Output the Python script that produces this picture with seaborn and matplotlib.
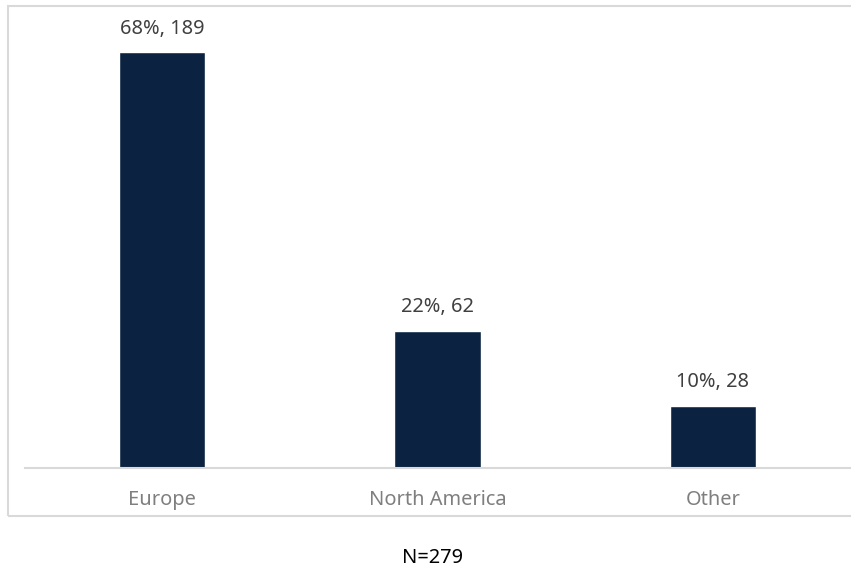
import matplotlib
matplotlib.use("Agg")
import matplotlib.pyplot as plt
from matplotlib.patches import Rectangle
import pandas as pd
import seaborn as sns

regions = ["Europe", "North America", "Other"]
shares = [68, 22, 10]
counts = [189, 62, 28]
total_label = "N=279"

sns.set_theme(style="white")
plt.rcParams["font.family"] = ["Noto Sans", "DejaVu Sans"]

W, H = 851, 572
fig = plt.figure(figsize=(W / 100, H / 100), dpi=100)
fig.patch.set_facecolor("white")

base_y = 467.5
top_y = 20
ax = fig.add_axes([24.5 / W, (H - base_y) / H, 826 / W, (base_y - top_y) / H])

df = pd.DataFrame({"region": regions, "count": counts})
sns.barplot(data=df, x="region", y="count", color="#0B2340", saturation=1,
            width=0.313, ax=ax)

ax.set_xlim(-0.5, 2.5)
ax.set_ylim(0, (base_y - top_y) / 2.196)
ax.set_xlabel("")
ax.set_ylabel("")
ax.set_yticks([])
for side in ["top", "left", "right"]:
    ax.spines[side].set_visible(False)
ax.spines["bottom"].set_color("#D9D9D9")
ax.spines["bottom"].set_linewidth(1.5)
ax.tick_params(axis="x", length=0, pad=16.5, labelsize=14.4, labelcolor="#7F7F7F")

labels = [f"{p}%, {c}" for p, c in zip(shares, counts)]
ax.bar_label(ax.containers[0], labels=labels, padding=10, fontsize=14.4,
             color="#404040")

# chart frame
fig.patches.append(Rectangle((8 / W, (H - 516) / H), 860 / W, 510 / H,
                             transform=fig.transFigure, fill=False,
                             edgecolor="#D9D9D9", linewidth=1.5))

fig.text(432 / W, (H - 558) / H, total_label, ha="center", va="center",
         fontsize=14.4, color="black")

fig.savefig("out.png", dpi=100, facecolor="white")
